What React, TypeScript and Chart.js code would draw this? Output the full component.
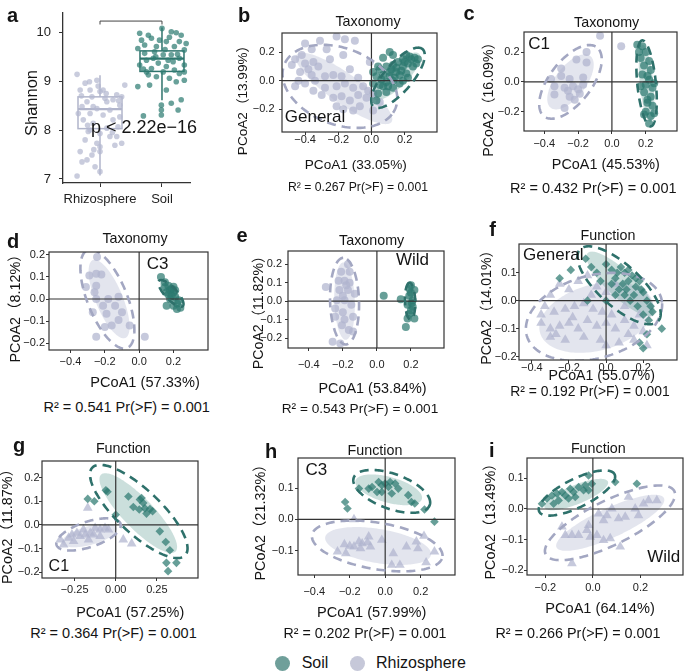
import React, { useEffect, useRef } from "react";
import { Chart, registerables } from "chart.js";

Chart.register(...registerables);

const FONT = "'Liberation Sans', Arial, 'Noto Sans CJK SC', sans-serif";
const INK = "#141414";
const AXIS = "#333333";
const SOIL_PT = "rgba(44,122,112,0.72)";
const RHIZO_PT = "rgba(176,180,207,0.72)";
const SOIL_FILL = "rgba(70,140,128,0.28)";
const RHIZO_FILL = "rgba(200,203,222,0.5)";
const SOIL_DASH = "#2e716b";
const RHIZO_DASH = "#a3a7c2";
const SOIL_BOX = "#2f746d";
const RHIZO_BOX = "#b1b5cb";

type Pt = [number, number];
// [group (0 soil, 1 rhizosphere), kind (0 filled, 1 dashed), cx, cy, a, b, angleDeg]
type Ell = [number, number, number, number, number, number, number];

// ---------------- Panel a: Shannon ----------------
const shannonGroups = ["Rhizosphere", "Soil"];
const shannonTicks = [7, 8, 9, 10];
const rhizoJitter = [-0.37, -0.17, -0.03, -0.05, -0.24, -0.32, -0.16, 0, -0.13, 0.27, 0.35, 0.4, 0.21, 0.08, -0.21, -0.29, -0.05, 0.16, 0.32, -0.16, 0.05, -0.27, 0.21, -0.11, 0.11, 0.29, -0.19, 0, 0.16, -0.24, -0.05, 0.24, 0.35, -0.32, 0, -0.13, -0.29, -0.21, -0.08, 0, -0.37, 0.27, -0.35, 0.32, 0.05, 0.11, -0.11, 0, -0.16, 0.3, -0.3, 0.1, -0.2, 0.2, -0.1];
const rhizoShannon = [9.14, 8.99, 8.9, 9.02, 8.96, 8.82, 8.82, 8.79, 8.68, 8.72, 8.68, 8.92, 8.62, 8.65, 8.58, 8.48, 8.44, 8.41, 8.51, 8.34, 8.31, 8.21, 8.21, 8.14, 8.04, 8.07, 7.97, 7.93, 7.87, 7.8, 7.73, 7.69, 7.73, 7.56, 7.56, 7.49, 7.35, 7.39, 7.25, 7.15, 7.06, 7.87, 8.34, 8.27, 8.82, 8.58, 8.48, 7.66, 8.0, 8.6, 8.7, 8.75, 8.1, 7.95, 7.6];
const soilJitter = [0, -0.36, -0.22, 0.15, 0.23, 0.31, -0.33, -0.17, 0.07, 0.28, -0.09, -0.39, 0.2, 0.36, -0.28, 0.02, 0.15, -0.14, -0.25, 0.1, 0.28, -0.06, -0.36, 0.36, -0.17, 0.2, 0.02, -0.25, 0.36, -0.09, 0.12, 0.36, -0.39, -0.2, 0.23, 0.07, 0.31, 0.15, -0.01, -0.01, 0.26, -0.01, -0.3, -0.12, 0.18, -0.28, 0.07, 0.28, -0.04, -0.22, 0.39, 0.05, -0.1, 0.25, 0.12, -0.3];
const soilShannon = [10.08, 9.98, 9.94, 10.01, 9.99, 9.94, 9.84, 9.88, 9.81, 9.81, 9.71, 9.67, 9.71, 9.64, 9.57, 9.54, 9.54, 9.47, 9.43, 9.43, 9.47, 9.37, 9.33, 9.33, 9.26, 9.23, 9.19, 9.19, 9.19, 9.09, 9.06, 9.02, 8.89, 8.92, 8.99, 8.82, 8.62, 8.55, 8.51, 8.41, 8.41, 8.31, 8.29, 9.6, 9.4, 9.74, 9.3, 9.16, 9.84, 9.13, 9.77, 9.65, 9.5, 9.55, 9.9, 9.25];
// lower whisker, Q1, median, Q3, upper whisker
const rhizoBox = [7.07, 8.03, 8.43, 8.68, 9.12];
const soilBox = [8.61, 9.2, 9.46, 9.62, 10.1];
const signifBracket = [10.16, 10.23];

// ---------------- Panel b ----------------
const bRhizo: Pt[] = [[-0.4, 0.26], [-0.31, 0.28], [-0.21, 0.31], [-0.16, 0.29], [-0.1, 0.28], [-0.36, 0.22], [-0.42, 0.18], [-0.46, 0.15], [-0.4, 0.12], [-0.35, 0.13], [-0.32, 0.1], [-0.38, 0.08], [-0.43, 0.06], [-0.28, 0.03], [-0.23, 0.04], [-0.34, 0.0], [-0.4, -0.02], [-0.28, -0.05], [-0.21, -0.04], [-0.16, -0.02], [-0.11, -0.05], [-0.05, -0.04], [-0.01, 0.13], [-0.35, -0.07], [-0.3, -0.1], [-0.23, -0.12], [-0.18, -0.11], [-0.13, -0.14], [-0.08, -0.1], [-0.03, -0.12], [-0.21, -0.18], [-0.17, -0.2], [-0.11, -0.21], [-0.07, -0.18], [0.01, -0.21], [0.05, -0.15], [0.01, -0.09], [-0.27, 0.22], [-0.44, 0.0], [-0.46, -0.04], [-0.17, 0.18], [-0.25, 0.15], [-0.36, 0.04], [-0.48, 0.11], [-0.18, 0.03], [-0.08, 0.02], [-0.02, -0.07], [-0.13, 0.08]];
const bSoil: Pt[] = [[0.11, 0.2], [0.13, 0.18], [0.07, 0.16], [0.21, 0.18], [0.24, 0.15], [0.27, 0.12], [0.22, 0.12], [0.19, 0.1], [0.15, 0.09], [0.11, 0.06], [0.07, 0.04], [0.03, 0.03], [0.17, 0.04], [0.21, 0.05], [0.13, 0.0], [0.09, -0.01], [0.05, -0.03], [0.17, -0.02], [0.13, -0.05], [0.09, -0.08], [0.04, -0.09], [0.03, -0.14], [0.01, -0.02], [0.26, 0.16], [0.19, 0.15], [0.16, 0.13], [0.25, 0.1], [0.13, 0.11], [0.09, 0.1], [0.05, 0.08], [0.22, 0.02], [0.19, 0.0], [0.07, -0.04], [0.11, 0.03], [0.15, 0.06], [0.01, 0.06], [0.28, 0.15], [0.04, 0.1], [0.23, 0.17], [0.18, 0.07], [0.14, 0.02], [0.1, -0.04], [0.06, 0.01], [0.2, 0.13], [0.12, 0.08]];
const bEll: Ell[] = [[1, 0, -0.165, -0.055, 0.37, 0.1, -40], [1, 1, -0.19, -0.04, 0.37, 0.26, -30], [0, 0, 0.15, 0.03, 0.21, 0.07, 50], [0, 1, 0.16, 0.02, 0.25, 0.09, 55]];

// ---------------- Panel c ----------------
const cRhizo: Pt[] = [[-0.07, 0.31], [0.055, 0.24], [-0.15, 0.13], [-0.21, 0.15], [-0.3, 0.09], [-0.36, 0.02], [-0.34, -0.03], [-0.34, -0.085], [-0.28, -0.04], [-0.25, 0.02], [-0.23, -0.03], [-0.2, -0.05], [-0.17, -0.02], [-0.25, -0.1], [-0.22, -0.12], [-0.28, -0.175], [-0.3, 0.04], [-0.17, 0.03], [-0.15, 0.2], [-0.19, -0.08], [-0.26, -0.06]];
const cSoil: Pt[] = [[0.15, 0.25], [0.18, 0.24], [0.2, 0.2], [0.17, 0.16], [0.22, 0.14], [0.19, 0.11], [0.23, 0.08], [0.18, 0.05], [0.22, 0.015], [0.2, -0.02], [0.24, -0.04], [0.19, -0.07], [0.23, -0.1], [0.21, -0.14], [0.24, -0.16], [0.2, -0.2], [0.23, -0.23], [0.22, -0.28], [0.16, 0.2], [0.21, 0.04], [0.25, -0.01], [0.17, -0.03], [0.21, -0.12], [0.25, -0.21], [0.19, -0.22]];
const cEll: Ell[] = [[1, 0, -0.245, 0.0, 0.21, 0.095, 58], [1, 1, -0.245, 0.0, 0.28, 0.13, 58], [0, 0, 0.205, -0.01, 0.26, 0.04, 95], [0, 1, 0.205, -0.01, 0.29, 0.055, 95]];

// ---------------- Panel d ----------------
const dRhizo: Pt[] = [[-0.245, 0.19], [-0.29, 0.106], [-0.25, 0.114], [-0.31, 0.054], [-0.26, 0.03], [-0.25, 0.0], [-0.18, 0.0], [-0.12, 0.01], [-0.27, -0.06], [-0.19, -0.066], [-0.14, -0.03], [-0.1, -0.06], [-0.2, -0.126], [-0.16, -0.12], [-0.25, -0.17], [-0.055, -0.12], [0.033, -0.17], [-0.25, 0.06], [-0.22, 0.11], [-0.21, -0.03], [-0.12, -0.095]];
const dSoil: Pt[] = [[0.127, 0.099], [0.15, 0.076], [0.17, 0.06], [0.19, 0.046], [0.2, 0.03], [0.16, 0.03], [0.21, 0.01], [0.18, 0.0], [0.23, -0.006], [0.16, -0.03], [0.2, -0.03], [0.24, -0.04], [0.22, -0.02], [0.15, 0.054], [0.18, 0.04], [0.21, 0.04], [0.19, 0.015], [0.17, 0.02], [0.22, -0.045], [0.2, 0.055]];
const dEll: Ell[] = [[1, 0, -0.175, 0.0, 0.2, 0.075, -60], [1, 1, -0.185, 0.0, 0.25, 0.11, -60], [0, 0, 0.185, 0.025, 0.08, 0.022, -38], [0, 1, 0.185, 0.025, 0.09, 0.03, -38]];

// ---------------- Panel e ----------------
const eRhizo: Pt[] = [[-0.3, 0.077], [-0.21, 0.16], [-0.16, 0.16], [-0.19, 0.11], [-0.16, 0.1], [-0.22, 0.06], [-0.17, 0.06], [-0.13, 0.04], [-0.235, 0.005], [-0.19, 0.005], [-0.15, -0.02], [-0.245, -0.04], [-0.2, -0.06], [-0.245, -0.085], [-0.19, -0.1], [-0.14, -0.085], [-0.165, -0.157], [-0.26, -0.22], [-0.215, -0.23], [-0.14, -0.165], [-0.205, -0.13], [-0.18, 0.086], [-0.225, 0.11], [-0.17, 0.2], [-0.2, 0.03]];
const eSoil: Pt[] = [[0.04, 0.03], [0.14, 0.01], [0.2, 0.086], [0.22, 0.06], [0.19, 0.03], [0.21, 0.005], [0.18, -0.02], [0.2, -0.05], [0.18, -0.094], [0.22, -0.094], [0.17, -0.14], [0.19, 0.068], [0.21, -0.03], [0.19, -0.07], [0.2, 0.045], [0.205, -0.01]];
const eEll: Ell[] = [[1, 0, -0.19, 0.0, 0.21, 0.06, 92], [1, 1, -0.19, 0.0, 0.235, 0.085, 92], [0, 0, 0.195, 0.0, 0.085, 0.022, 92], [0, 1, 0.195, 0.0, 0.1, 0.03, 92]];

// ---------------- Panel f ----------------
const fRhizo: Pt[] = [[-0.3, 0.02], [-0.25, 0.06], [-0.2, 0.04], [-0.15, 0.07], [-0.1, 0.09], [-0.05, 0.05], [0.0, 0.03], [-0.33, -0.02], [-0.28, -0.04], [-0.22, -0.03], [-0.17, -0.02], [-0.12, -0.01], [-0.07, -0.03], [-0.02, -0.04], [0.03, -0.05], [-0.35, -0.08], [-0.3, -0.1], [-0.25, -0.09], [-0.2, -0.08], [-0.15, -0.1], [-0.1, -0.07], [-0.05, -0.09], [0.0, -0.08], [0.05, -0.1], [0.1, -0.07], [0.15, -0.09], [0.2, -0.11], [-0.3, -0.13], [-0.22, -0.14], [-0.12, -0.13], [-0.03, -0.14], [0.07, -0.15], [0.15, -0.14], [0.22, -0.16], [-0.35, -0.05], [0.05, 0.06], [0.1, -0.02], [-0.08, 0.02], [-0.18, -0.06], [-0.27, -0.12], [0.0, -0.16], [0.18, -0.05], [0.12, -0.12]];
const fSoil: Pt[] = [[-0.25, 0.08], [-0.19, 0.11], [-0.08, 0.12], [-0.05, 0.1], [0.0, 0.13], [0.03, 0.11], [0.05, 0.08], [0.08, 0.12], [0.1, 0.1], [0.12, 0.07], [0.14, 0.09], [0.16, 0.05], [0.18, 0.07], [0.2, 0.03], [0.22, 0.0], [0.07, 0.04], [0.1, 0.02], [0.13, 0.0], [0.03, 0.06], [0.05, 0.02], [0.15, 0.02], [0.17, -0.02], [0.2, -0.05], [0.23, -0.07], [0.3, -0.1], [0.25, -0.04], [0.22, -0.12], [0.18, -0.15], [0.2, -0.17], [-0.11, 0.15], [-0.03, 0.07], [0.09, 0.06], [0.12, 0.11], [-0.1, 0.0], [0.0, 0.0], [0.06, 0.1], [0.16, 0.08], [0.19, 0.04], [0.24, -0.02], [0.11, 0.04]];
const fEll: Ell[] = [[1, 0, -0.052, -0.06, 0.31, 0.12, 8], [1, 1, -0.065, -0.058, 0.37, 0.15, 8], [0, 0, 0.078, 0.06, 0.21, 0.055, -30], [0, 1, 0.07, 0.055, 0.25, 0.085, -28]];

// ---------------- Panel g ----------------
const gRhizo: Pt[] = [[-0.17, 0.072], [-0.317, -0.083], [-0.286, -0.055], [-0.266, -0.041], [-0.236, -0.034], [-0.216, -0.048], [-0.185, -0.041], [-0.155, -0.034], [-0.135, -0.041], [-0.095, -0.02], [-0.065, -0.013], [-0.044, -0.02], [-0.095, -0.048], [-0.165, -0.062], [0.046, -0.062], [0.097, -0.079], [-0.256, -0.069], [-0.196, -0.02], [-0.125, -0.013], [-0.337, -0.062]];
const gSoil: Pt[] = [[-0.17, 0.11], [-0.13, 0.1], [-0.06, 0.146], [-0.05, 0.14], [0.0, 0.043], [0.077, 0.12], [0.107, 0.076], [0.147, 0.107], [0.167, 0.093], [0.177, 0.07], [0.143, 0.065], [0.187, 0.048], [0.224, 0.058], [0.268, -0.027], [0.304, -0.072], [0.329, -0.107], [0.308, -0.16], [0.369, -0.16], [0.318, -0.195], [0.157, 0.114], [0.208, 0.067]];
const gEll: Ell[] = [[1, 0, -0.16, -0.045, 0.17, 0.04, 10], [1, 1, -0.165, -0.04, 0.2, 0.055, 12], [0, 0, 0.137, 0.05, 0.28, 0.075, -34], [0, 1, 0.14, 0.057, 0.34, 0.105, -31]];

// ---------------- Panel h ----------------
const hRhizo: Pt[] = [[-0.176, 0.0], [-0.23, -0.08], [-0.2, -0.085], [-0.176, -0.087], [-0.13, -0.077], [-0.1, -0.074], [-0.083, -0.087], [-0.139, -0.093], [-0.148, -0.071], [-0.269, -0.103], [-0.222, -0.109], [-0.093, -0.055], [-0.019, -0.066], [0.046, -0.109], [0.037, -0.146], [0.083, -0.146], [0.12, -0.087], [0.176, -0.071], [0.185, -0.093], [0.219, -0.053], [0.231, -0.138], [0.278, -0.103]];
const hSoil: Pt[] = [[-0.226, 0.056], [-0.213, 0.035], [-0.148, 0.099], [-0.093, 0.099], [-0.037, 0.12], [-0.019, 0.11], [0.0, 0.115], [0.019, 0.104], [0.028, 0.12], [-0.046, 0.088], [-0.019, 0.088], [0.037, 0.083], [0.074, 0.099], [0.13, 0.078], [0.148, 0.056], [0.167, 0.051], [0.222, 0.032], [0.278, -0.007], [-0.074, 0.104], [0.056, 0.115]];
const hEll: Ell[] = [[0, 0, 0.02, 0.095, 0.19, 0.042, -8], [0, 1, 0.037, 0.09, 0.22, 0.058, -10], [1, 0, -0.04, -0.085, 0.3, 0.055, -5], [1, 1, -0.045, -0.085, 0.37, 0.075, -5]];

// ---------------- Panel i ----------------
const iRhizo: Pt[] = [[0.024, -0.015], [0.059, -0.021], [0.08, 0.001], [0.108, -0.031], [0.15, 0.039], [0.178, 0.001], [0.213, 0.017], [0.234, 0.028], [0.269, 0.028], [-0.13, -0.058], [-0.088, -0.085], [-0.06, -0.085], [-0.025, -0.069], [-0.011, -0.091], [0.017, -0.085], [0.045, -0.102], [0.073, -0.096], [0.115, -0.123], [-0.088, -0.177], [0.045, -0.037], [0.136, -0.026], [0.192, -0.021], [-0.116, -0.085], [-0.018, -0.053]];
const iSoil: Pt[] = [[-0.214, 0.017], [-0.193, 0.034], [-0.172, 0.044], [-0.151, 0.05], [-0.13, 0.055], [-0.116, 0.044], [-0.095, 0.066], [-0.081, 0.055], [-0.06, 0.071], [-0.039, 0.061], [-0.018, 0.109], [-0.018, 0.061], [-0.004, 0.082], [0.094, 0.088], [0.185, 0.082], [-0.144, 0.028], [-0.102, 0.034], [-0.165, 0.017], [-0.074, 0.039], [-0.032, 0.077]];
const iEll: Ell[] = [[0, 0, -0.07, 0.047, 0.14, 0.032, 17], [0, 1, -0.067, 0.052, 0.17, 0.048, 20], [1, 0, 0.073, -0.045, 0.24, 0.05, 19], [1, 1, 0.072, -0.045, 0.29, 0.075, 20]];

const ticks02 = [-0.4, -0.2, 0, 0.2];
const ticksY02 = [-0.2, 0, 0.2];
const ticksY01 = [-0.2, -0.1, 0, 0.1, 0.2];

interface Spec {
  id: string;
  frame: [number, number, number, number];
  x: [number, number];
  y: [number, number];
  xTicks: number[];
  yTicks: number[];
  xDec: number;
  yDec: number;
  xPad: number;
  yPad: number;
  soil: Pt[];
  rhizo: Pt[];
  fn: boolean;
  ell: Ell[];
}

const PANELS: Spec[] = [
  { id: "b", frame: [282, 33, 437, 132], x: [-0.539, 0.395], y: [-0.36, 0.334], xTicks: ticks02, yTicks: ticksY02, xDec: 1, yDec: 1, xPad: -1.5, yPad: 4.5, soil: bSoil, rhizo: bRhizo, fn: false, ell: bEll },
  { id: "c", frame: [524, 32, 677, 131], x: [-0.52, 0.385], y: [-0.33, 0.335], xTicks: ticks02, yTicks: ticksY02, xDec: 1, yDec: 1, xPad: 3.5, yPad: 1.5, soil: cSoil, rhizo: cRhizo, fn: false, ell: cEll },
  { id: "d", frame: [49, 252, 208, 350], x: [-0.525, 0.401], y: [-0.23, 0.212], xTicks: ticks02, yTicks: ticksY01, xDec: 1, yDec: 1, xPad: 2.5, yPad: 1, soil: dSoil, rhizo: dRhizo, fn: false, ell: dEll },
  { id: "e", frame: [288, 251, 444, 348], x: [-0.522, 0.394], y: [-0.254, 0.272], xTicks: ticks02, yTicks: ticksY01, xDec: 1, yDec: 1, xPad: 7, yPad: 3, soil: eSoil, rhizo: eRhizo, fn: false, ell: eEll },
  { id: "f", frame: [519, 244, 677, 360], x: [-0.469, 0.382], y: [-0.212, 0.2025], xTicks: ticks02, yTicks: [-0.2, -0.1, 0, 0.1], xDec: 1, yDec: 1, xPad: -1.3, yPad: -0.5, soil: fSoil, rhizo: fRhizo, fn: true, ell: fEll },
  { id: "g", frame: [42, 461, 198, 578], x: [-0.448, 0.5], y: [-0.224, 0.27], xTicks: [-0.25, 0, 0.25], yTicks: ticksY01, xDec: 2, yDec: 1, xPad: 2, yPad: -0.5, soil: gSoil, rhizo: gRhizo, fn: true, ell: gEll },
  { id: "h", frame: [298, 458, 455, 575], x: [-0.492, 0.394], y: [-0.178, 0.197], xTicks: ticks02, yTicks: [-0.1, 0, 0.1], xDec: 1, yDec: 1, xPad: 7, yPad: 1.5, soil: hSoil, rhizo: hRhizo, fn: true, ell: hEll },
  { id: "i", frame: [527, 458, 683, 575], x: [-0.277, 0.379], y: [-0.215, 0.166], xTicks: [-0.2, 0, 0.2], yTicks: [-0.2, -0.1, 0, 0.1], xDec: 1, yDec: 1, xPad: 3, yPad: 0.5, soil: iSoil, rhizo: iRhizo, fn: true, ell: iEll },
];

// text layout: x, baseline y (or centre for rotated), size
interface TextSpec { t: string; x: number; y: number; s: number; bold?: boolean; anchor?: "middle" | "left"; rot?: boolean }
const TEXTS: TextSpec[] = [
  { t: "a", x: 12.5, y: 21.5, s: 20, bold: true },
  { t: "b", x: 244, y: 21.7, s: 20, bold: true },
  { t: "c", x: 469, y: 20.4, s: 20, bold: true },
  { t: "d", x: 13, y: 248.3, s: 20, bold: true },
  { t: "e", x: 242, y: 241.7, s: 20, bold: true },
  { t: "f", x: 492.5, y: 236, s: 20, bold: true },
  { t: "g", x: 19, y: 452, s: 20, bold: true },
  { t: "h", x: 271, y: 458, s: 20, bold: true },
  { t: "i", x: 491.7, y: 456.7, s: 20, bold: true },
  { t: "Taxonomy", x: 368, y: 26, s: 14.3 },
  { t: "Taxonomy", x: 606.7, y: 26.7, s: 14.3 },
  { t: "Taxonomy", x: 135, y: 243.3, s: 14.3 },
  { t: "Taxonomy", x: 371.7, y: 245, s: 14.3 },
  { t: "Function", x: 608, y: 240, s: 14.3 },
  { t: "Function", x: 123.3, y: 453.3, s: 14.3 },
  { t: "Function", x: 375, y: 455, s: 14.3 },
  { t: "Function", x: 598.3, y: 453.3, s: 14.3 },
  { t: "PCoA1 (33.05%)", x: 355.8, y: 169.7, s: 13.6 },
  { t: "PCoA1 (45.53%)", x: 605.8, y: 169.6, s: 14.4 },
  { t: "PCoA1 (57.33%)", x: 145, y: 387.2, s: 14.6 },
  { t: "PCoA1 (53.84%)", x: 372.5, y: 393.6, s: 14.4 },
  { t: "PCoA1 (55.07%)", x: 601.7, y: 380.2, s: 14.2 },
  { t: "PCoA1 (57.25%)", x: 130.2, y: 617, s: 14.4 },
  { t: "PCoA1 (57.99%)", x: 371.7, y: 617.2, s: 14.6 },
  { t: "PCoA1 (64.14%)", x: 600, y: 613.2, s: 14.6 },
  { t: "R² = 0.267 Pr(>F) = 0.001", x: 358, y: 191.4, s: 12.2 },
  { t: "R² = 0.432 Pr(>F) = 0.001", x: 593.3, y: 193.1, s: 14.5 },
  { t: "R² = 0.541 Pr(>F) = 0.001", x: 126.7, y: 412.1, s: 14.5 },
  { t: "R² = 0.543 Pr(>F) = 0.001", x: 360, y: 413.1, s: 13.65 },
  { t: "R² = 0.192 Pr(>F) = 0.001", x: 590, y: 396.7, s: 13.9 },
  { t: "R² = 0.364 Pr(>F) = 0.001", x: 113.5, y: 638.5, s: 14.5 },
  { t: "R² = 0.202 Pr(>F) = 0.001", x: 365, y: 638.5, s: 14.2 },
  { t: "R² = 0.266 Pr(>F) = 0.001", x: 578, y: 638.5, s: 14.4 },
  { t: "General", x: 315, y: 122.2, s: 17 },
  { t: "C1", x: 539.2, y: 48.9, s: 17 },
  { t: "C3", x: 157.5, y: 268.9, s: 17 },
  { t: "Wild", x: 412.5, y: 265.5, s: 17 },
  { t: "General", x: 553.3, y: 260.5, s: 17 },
  { t: "C1", x: 58.8, y: 571.5, s: 16 },
  { t: "C3", x: 316.3, y: 475.5, s: 17 },
  { t: "Wild", x: 663.8, y: 562.2, s: 17 },
  { t: "p < 2.22e−16", x: 91, y: 133, s: 18, anchor: "left" },
  { t: "Shannon", x: 30.8, y: 103, s: 16.5, rot: true },
  { t: "PCoA2（13.99%）", x: 243, y: 96.7, s: 13.6, rot: true },
  { t: "PCoA2（16.09%）", x: 488.3, y: 96, s: 14.2, rot: true },
  { t: "PCoA2（8.12%）", x: 15, y: 305, s: 14.4, rot: true },
  { t: "PCoA2（11.82%）", x: 258.3, y: 309, s: 14.2, rot: true },
  { t: "PCoA2（14.01%）", x: 486, y: 304, s: 14.2, rot: true },
  { t: "PCoA2（11.87%）", x: 7, y: 523, s: 14.4, rot: true },
  { t: "PCoA2（21.32%）", x: 260, y: 519, s: 14.4, rot: true },
  { t: "PCoA2（13.49%）", x: 490, y: 517.5, s: 14.4, rot: true },
  { t: "Soil", x: 301.7, y: 668.2, s: 16, anchor: "left" },
  { t: "Rhizosphere", x: 376, y: 668.2, s: 16, anchor: "left" },
];

const legendItems = ["Soil", "Rhizosphere"];

function fmt(v: number, dec: number): string {
  const s = Math.abs(v).toFixed(dec);
  return (v < -1e-9 ? "−" : "") + s;
}

function traceEllipse(chart: any, e: Ell) {
  const [, , cx, cy, a, b, ang] = e;
  const xs = chart.scales.x;
  const ys = chart.scales.y;
  const th = (ang * Math.PI) / 180;
  const ctx = chart.ctx as CanvasRenderingContext2D;
  ctx.beginPath();
  const n = 160;
  for (let i = 0; i <= n; i++) {
    const t = (i / n) * Math.PI * 2;
    const dx = a * Math.cos(t);
    const dy = b * Math.sin(t);
    const x = cx + dx * Math.cos(th) - dy * Math.sin(th);
    const y = cy + dx * Math.sin(th) + dy * Math.cos(th);
    const px = xs.getPixelForValue(x);
    const py = ys.getPixelForValue(y);
    if (i === 0) ctx.moveTo(px, py);
    else ctx.lineTo(px, py);
  }
  ctx.closePath();
}

function makeDecor(spec: Spec) {
  return {
    id: "decor" + spec.id,
    beforeDatasetsDraw(chart: any) {
      const ctx = chart.ctx as CanvasRenderingContext2D;
      const ca = chart.chartArea;
      ctx.save();
      ctx.beginPath();
      ctx.rect(ca.left, ca.top, ca.right - ca.left, ca.bottom - ca.top);
      ctx.clip();
      for (const e of spec.ell) {
        if (e[1] !== 0) continue;
        traceEllipse(chart, e);
        ctx.fillStyle = e[0] === 0 ? SOIL_FILL : RHIZO_FILL;
        ctx.fill();
      }
      ctx.restore();
    },
    afterDatasetsDraw(chart: any) {
      const ctx = chart.ctx as CanvasRenderingContext2D;
      const ca = chart.chartArea;
      const xs = chart.scales.x;
      const ys = chart.scales.y;
      ctx.save();
      ctx.beginPath();
      ctx.rect(ca.left, ca.top, ca.right - ca.left, ca.bottom - ca.top);
      ctx.clip();
      ctx.strokeStyle = AXIS;
      ctx.lineWidth = 1.2;
      ctx.beginPath();
      const x0 = xs.getPixelForValue(0);
      const y0 = ys.getPixelForValue(0);
      ctx.moveTo(x0, ca.top);
      ctx.lineTo(x0, ca.bottom);
      ctx.moveTo(ca.left, y0);
      ctx.lineTo(ca.right, y0);
      ctx.stroke();
      ctx.setLineDash([9, 6]);
      ctx.lineWidth = 2.6;
      for (const e of spec.ell) {
        if (e[1] !== 1) continue;
        traceEllipse(chart, e);
        ctx.strokeStyle = e[0] === 0 ? SOIL_DASH : RHIZO_DASH;
        ctx.stroke();
      }
      ctx.restore();
      ctx.save();
      ctx.strokeStyle = AXIS;
      ctx.lineWidth = 1.2;
      ctx.strokeRect(ca.left, ca.top, ca.right - ca.left, ca.bottom - ca.top);
      ctx.restore();
    },
  };
}

const PAD_L = 46;
const PAD_T = 8;
const PAD_R = 8;
const PAD_B = 30;

function ScatterPanel({ spec }: { spec: Spec }) {
  const ref = useRef<HTMLCanvasElement>(null);
  const [L, T, R, B] = spec.frame;
  const w = R - L + PAD_L + PAD_R;
  const h = B - T + PAD_T + PAD_B;
  useEffect(() => {
    const tickFont = { family: FONT, size: 11 };
    const chart = new Chart(ref.current as HTMLCanvasElement, {
      type: "scatter",
      data: {
        datasets: [
          {
            data: spec.soil.map(([x, y]) => ({ x, y })),
            pointStyle: spec.fn ? "rectRot" : "circle",
            pointRadius: spec.fn ? 4.3 : 4,
            backgroundColor: SOIL_PT,
            borderWidth: 0,
          },
          {
            data: spec.rhizo.map(([x, y]) => ({ x, y })),
            pointStyle: spec.fn ? "triangle" : "circle",
            pointRadius: spec.fn ? 5.6 : 4,
            backgroundColor: RHIZO_PT,
            borderWidth: 0,
          },
        ],
      },
      options: {
        animation: false,
        responsive: false,
        devicePixelRatio: 1,
        events: [],
        layout: { padding: { left: 0, top: PAD_T, right: PAD_R, bottom: 0 } },
        plugins: { legend: { display: false }, tooltip: { enabled: false } },
        scales: {
          x: {
            type: "linear",
            min: spec.x[0],
            max: spec.x[1],
            afterBuildTicks: (s: any) => {
              s.ticks = spec.xTicks.map((v) => ({ value: v }));
            },
            afterFit: (s: any) => {
              s.height = PAD_B;
              s.paddingLeft = 0;
              s.paddingRight = 0;
            },
            ticks: {
              callback: (v: any) => fmt(Number(v), spec.xDec),
              font: tickFont,
              color: "#222",
              padding: spec.xPad,
              maxRotation: 0,
              autoSkip: false,
            },
            grid: { drawOnChartArea: false, drawTicks: true, tickLength: 3, color: AXIS, lineWidth: 1 },
            border: { display: false },
          },
          y: {
            type: "linear",
            min: spec.y[0],
            max: spec.y[1],
            afterBuildTicks: (s: any) => {
              s.ticks = spec.yTicks.map((v) => ({ value: v }));
            },
            afterFit: (s: any) => {
              s.width = PAD_L;
              s.paddingTop = 0;
              s.paddingBottom = 0;
            },
            ticks: {
              callback: (v: any) => fmt(Number(v), spec.yDec),
              font: tickFont,
              color: "#222",
              padding: spec.yPad,
              autoSkip: false,
            },
            grid: { drawOnChartArea: false, drawTicks: true, tickLength: 3, color: AXIS, lineWidth: 1 },
            border: { display: false },
          },
        },
      } as any,
      plugins: [makeDecor(spec)],
    });
    return () => chart.destroy();
  }, []);
  return (
    <canvas
      ref={ref}
      width={w}
      height={h}
      style={{ position: "absolute", left: L - PAD_L, top: T - PAD_T, width: w, height: h }}
    />
  );
}

const A_FRAME: [number, number, number, number] = [63, 13, 190, 183];
const A_PAD_L = 62;
const A_PAD_T = 4;
const A_PAD_R = 8;
const A_PAD_B = 32;
const BOX_HALF = 0.355;

function ShannonPanel() {
  const ref = useRef<HTMLCanvasElement>(null);
  const [L, T, R, B] = A_FRAME;
  const w = R - L + A_PAD_L + A_PAD_R;
  const h = B - T + A_PAD_T + A_PAD_B;
  useEffect(() => {
    const tickFont = { family: FONT, size: 13 };
    const boxPlugin = {
      id: "shannonBoxes",
      beforeDatasetsDraw(chart: any) {
        const ctx = chart.ctx as CanvasRenderingContext2D;
        const xs = chart.scales.x;
        const ys = chart.scales.y;
        const draw = (pos: number, st: number[], color: string) => {
          const [lo, q1, med, q3, hi] = st;
          const xl = xs.getPixelForValue(pos - BOX_HALF);
          const xr = xs.getPixelForValue(pos + BOX_HALF);
          const xc = xs.getPixelForValue(pos);
          ctx.save();
          ctx.strokeStyle = color;
          ctx.lineWidth = 1.5;
          ctx.beginPath();
          ctx.moveTo(xc, ys.getPixelForValue(hi));
          ctx.lineTo(xc, ys.getPixelForValue(q3));
          ctx.moveTo(xc, ys.getPixelForValue(q1));
          ctx.lineTo(xc, ys.getPixelForValue(lo));
          ctx.stroke();
          const yt = ys.getPixelForValue(q3);
          const yb = ys.getPixelForValue(q1);
          ctx.strokeRect(xl, yt, xr - xl, yb - yt);
          ctx.lineWidth = 2.2;
          ctx.beginPath();
          ctx.moveTo(xl, ys.getPixelForValue(med));
          ctx.lineTo(xr, ys.getPixelForValue(med));
          ctx.stroke();
          ctx.restore();
        };
        draw(1, rhizoBox, RHIZO_BOX);
        draw(2, soilBox, SOIL_BOX);
      },
      afterDraw(chart: any) {
        const ctx = chart.ctx as CanvasRenderingContext2D;
        const xs = chart.scales.x;
        const ys = chart.scales.y;
        ctx.save();
        ctx.strokeStyle = "#444";
        ctx.lineWidth = 1;
        ctx.beginPath();
        ctx.moveTo(xs.getPixelForValue(1), ys.getPixelForValue(signifBracket[0]));
        ctx.lineTo(xs.getPixelForValue(1), ys.getPixelForValue(signifBracket[1]));
        ctx.lineTo(xs.getPixelForValue(2), ys.getPixelForValue(signifBracket[1]));
        ctx.lineTo(xs.getPixelForValue(2), ys.getPixelForValue(signifBracket[0]));
        ctx.stroke();
        ctx.restore();
      },
    };
    const chart = new Chart(ref.current as HTMLCanvasElement, {
      type: "scatter",
      data: {
        datasets: [
          {
            data: soilShannon.map((y, i) => ({ x: 2 + soilJitter[i], y })),
            pointRadius: 2.8,
            backgroundColor: "rgba(47,125,115,0.72)",
            borderWidth: 0,
          },
          {
            data: rhizoShannon.map((y, i) => ({ x: 1 + rhizoJitter[i], y })),
            pointRadius: 2.8,
            backgroundColor: "rgba(180,184,208,0.72)",
            borderWidth: 0,
          },
        ],
      },
      options: {
        animation: false,
        responsive: false,
        devicePixelRatio: 1,
        events: [],
        layout: { padding: { left: 0, top: A_PAD_T, right: A_PAD_R, bottom: 0 } },
        plugins: { legend: { display: false }, tooltip: { enabled: false } },
        scales: {
          x: {
            type: "linear",
            min: 0.403,
            max: 2.452,
            afterBuildTicks: (s: any) => {
              s.ticks = shannonGroups.map((_, i) => ({ value: i + 1 }));
            },
            afterFit: (s: any) => {
              s.height = A_PAD_B;
              s.paddingLeft = 0;
              s.paddingRight = 0;
            },
            ticks: {
              callback: (v: any) => shannonGroups[Math.round(Number(v)) - 1],
              font: tickFont,
              color: "#222",
              padding: 5,
              maxRotation: 0,
              autoSkip: false,
            },
            grid: { drawOnChartArea: false, drawTicks: true, tickLength: 4, color: AXIS },
            border: { display: true, color: AXIS, width: 1.3 },
          },
          y: {
            type: "linear",
            min: 6.918,
            max: 10.395,
            afterBuildTicks: (s: any) => {
              s.ticks = shannonTicks.map((v) => ({ value: v }));
            },
            afterFit: (s: any) => {
              s.width = A_PAD_L;
              s.paddingTop = 0;
              s.paddingBottom = 0;
            },
            ticks: {
              callback: (v: any) => String(v),
              font: tickFont,
              color: "#222",
              padding: 8,
              autoSkip: false,
            },
            grid: { drawOnChartArea: false, drawTicks: true, tickLength: 4, color: AXIS },
            border: { display: true, color: AXIS, width: 1.3 },
          },
        },
      } as any,
      plugins: [boxPlugin],
    });
    return () => chart.destroy();
  }, []);
  return (
    <canvas
      ref={ref}
      width={w}
      height={h}
      style={{ position: "absolute", left: L - A_PAD_L, top: T - A_PAD_T, width: w, height: h }}
    />
  );
}

function Txt({ spec }: { spec: TextSpec }) {
  const { t, x, y, s, bold, anchor = "middle", rot } = spec;
  if (rot) {
    return (
      <div
        style={{
          position: "absolute",
          left: x,
          top: y,
          fontSize: s,
          lineHeight: 1,
          whiteSpace: "nowrap",
          color: INK,
          fontFamily: FONT,
          transform: "translate(-50%,-50%) rotate(-90deg)",
        }}
      >
        {t}
      </div>
    );
  }
  return (
    <div
      style={{
        position: "absolute",
        left: x,
        top: y - 0.8465 * s,
        fontSize: s,
        lineHeight: 1,
        whiteSpace: "nowrap",
        color: INK,
        fontFamily: FONT,
        fontWeight: bold ? 700 : 400,
        transform: anchor === "middle" ? "translateX(-50%)" : undefined,
      }}
    >
      {t}
    </div>
  );
}

const legendDots = [
  { x: 282.3, color: "#6f9f9a" },
  { x: 357.3, color: "#c6c8d9" },
];

export default function App() {
  return (
    <div
      style={{
        position: "absolute",
        left: 0,
        top: 0,
        width: 685,
        height: 672,
        overflow: "hidden",
        background: "#ffffff",
        fontFamily: FONT,
      }}
    >
      <ShannonPanel />
      {PANELS.map((p) => (
        <ScatterPanel key={p.id} spec={p} />
      ))}
      {TEXTS.map((t, i) => (
        <Txt key={i} spec={t} />
      ))}
      {legendDots.map((d, i) => (
        <div
          key={legendItems[i]}
          title={legendItems[i]}
          style={{
            position: "absolute",
            left: d.x - 7.5,
            top: 663.3 - 7.5,
            width: 15,
            height: 15,
            borderRadius: "50%",
            background: d.color,
          }}
        />
      ))}
    </div>
  );
}
